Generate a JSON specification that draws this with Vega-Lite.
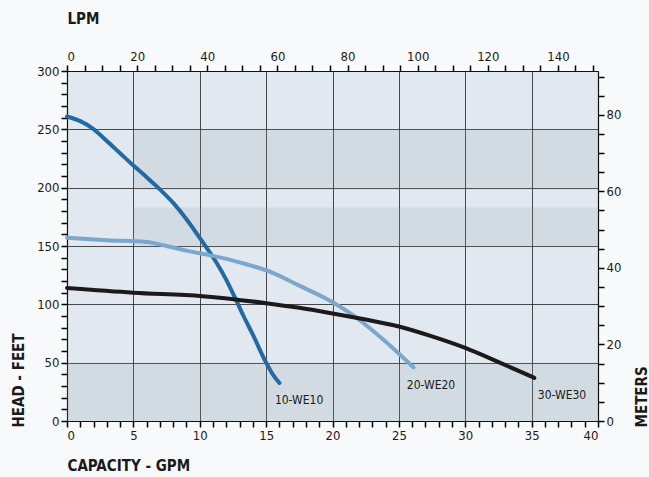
{
  "$schema": "https://vega.github.io/schema/vega-lite/v6.json",
  "width": 531,
  "height": 350,
  "autosize": {"type": "none"},
  "padding": {"left": 67, "top": 71, "right": 51, "bottom": 56},
  "background": "#f8f9fb",
  "view": {"fill": "#e1e8f0", "stroke": null},
  "config": {
    "font": "Liberation Sans Narrow, DejaVu Sans Condensed, Liberation Sans, sans-serif",
    "axis": {
      "labelFont": "Liberation Sans Narrow, DejaVu Sans Condensed, Liberation Sans, sans-serif",
      "labelFontSize": 13,
      "labelColor": "#1a1a1a",
      "labelOverlap": false,
      "titleFont": "Liberation Sans Narrow, DejaVu Sans Condensed, Liberation Sans, sans-serif",
      "titleFontSize": 15,
      "titleFontWeight": "bold",
      "titleColor": "#1a1a1a",
      "domainColor": "#111111",
      "domainWidth": 1.2,
      "ticks": true,
      "tickColor": "#000000",
      "tickOpacity": 1,
      "tickSize": 6,
      "tickWidth": 1.5,
      "labelPadding": 2,
      "gridColor": "#2a2a2a",
      "gridWidth": 1
    }
  },
  "datasets": {
    "curves": [
      {"model": "10-WE10", "gpm": 0, "ft": 261},
      {"model": "10-WE10", "gpm": 1, "ft": 257},
      {"model": "10-WE10", "gpm": 1.9, "ft": 251},
      {"model": "10-WE10", "gpm": 3, "ft": 240},
      {"model": "10-WE10", "gpm": 4, "ft": 229.5},
      {"model": "10-WE10", "gpm": 5, "ft": 219},
      {"model": "10-WE10", "gpm": 6, "ft": 209},
      {"model": "10-WE10", "gpm": 7, "ft": 198.5},
      {"model": "10-WE10", "gpm": 8, "ft": 187},
      {"model": "10-WE10", "gpm": 9, "ft": 173},
      {"model": "10-WE10", "gpm": 10.3, "ft": 152},
      {"model": "10-WE10", "gpm": 11.3, "ft": 135},
      {"model": "10-WE10", "gpm": 12, "ft": 121},
      {"model": "10-WE10", "gpm": 12.6, "ft": 107},
      {"model": "10-WE10", "gpm": 13.3, "ft": 90},
      {"model": "10-WE10", "gpm": 14, "ft": 74},
      {"model": "10-WE10", "gpm": 15, "ft": 50},
      {"model": "10-WE10", "gpm": 15.5, "ft": 40},
      {"model": "10-WE10", "gpm": 16, "ft": 32.5},
      {"model": "20-WE20", "gpm": 0, "ft": 157},
      {"model": "20-WE20", "gpm": 3, "ft": 155},
      {"model": "20-WE20", "gpm": 6, "ft": 153.5},
      {"model": "20-WE20", "gpm": 7.5, "ft": 150},
      {"model": "20-WE20", "gpm": 9, "ft": 146},
      {"model": "20-WE20", "gpm": 10.8, "ft": 142},
      {"model": "20-WE20", "gpm": 13, "ft": 136},
      {"model": "20-WE20", "gpm": 15.5, "ft": 127},
      {"model": "20-WE20", "gpm": 17.5, "ft": 116},
      {"model": "20-WE20", "gpm": 19.5, "ft": 105},
      {"model": "20-WE20", "gpm": 21.3, "ft": 92.6},
      {"model": "20-WE20", "gpm": 23.6, "ft": 72},
      {"model": "20-WE20", "gpm": 26.1, "ft": 46},
      {"model": "30-WE30", "gpm": 0, "ft": 114},
      {"model": "30-WE30", "gpm": 5, "ft": 110},
      {"model": "30-WE30", "gpm": 10.2, "ft": 107},
      {"model": "30-WE30", "gpm": 15, "ft": 101},
      {"model": "30-WE30", "gpm": 17.5, "ft": 97},
      {"model": "30-WE30", "gpm": 19.8, "ft": 92.6},
      {"model": "30-WE30", "gpm": 22.5, "ft": 87},
      {"model": "30-WE30", "gpm": 25, "ft": 81},
      {"model": "30-WE30", "gpm": 27.5, "ft": 72.5},
      {"model": "30-WE30", "gpm": 30, "ft": 62.6},
      {"model": "30-WE30", "gpm": 32.6, "ft": 50},
      {"model": "30-WE30", "gpm": 35.2, "ft": 37}
    ],
    "labels": [
      {"model": "10-WE10", "gpm": 15.66, "ft": 18},
      {"model": "20-WE20", "gpm": 25.6, "ft": 31},
      {"model": "30-WE30", "gpm": 35.47, "ft": 22.3}
    ],
    "bands": [
      {"gpm": 0, "gpm2": 40, "ft": 0, "ft2": 50},
      {"gpm": 5, "gpm2": 40, "ft": 198, "ft2": 250},
      {"gpm": 5, "gpm2": 40, "ft": 149, "ft2": 183}
    ],
    "secondary": [
      {"lpm": 0, "m": 0},
      {"lpm": 151.42, "m": 91.44}
    ]
  },
  "layer": [
    {
      "encoding": {
        "x": {"field": "gpm", "type": "quantitative", "scale": {"domain": [0, 40], "nice": false, "zero": false},
          "axis": {
            "orient": "bottom",
            "title": "CAPACITY - GPM",
            "values": [0,1,2,3,4,5,6,7,8,9,10,11,12,13,14,15,16,17,18,19,20,21,22,23,24,25,26,27,28,29,30,31,32,33,34,35,36,37,38,39,40],
            "labelExpr": "datum.value % 5 === 0 ? datum.label : ''",
            "grid": true,
            "gridOpacity": {"condition": {"test": "datum.value % 5 === 0", "value": 0.85}, "value": 0},
            "titleX": 0,
            "titleY": 44,
            "titleAlign": "left",
            "titleBaseline": "middle",
            "titleAnchor": "start"
          }},
        "y": {"field": "ft", "type": "quantitative", "scale": {"domain": [0, 300], "nice": false, "zero": false},
          "axis": {
            "orient": "left",
            "title": "HEAD - FEET",
            "values": [0,10,20,30,40,50,60,70,80,90,100,110,120,130,140,150,160,170,180,190,200,210,220,230,240,250,260,270,280,290,300],
            "labelExpr": "datum.value % 50 === 0 ? datum.label : ''",
            "grid": true,
            "gridOpacity": {"condition": {"test": "datum.value % 50 === 0", "value": 0.85}, "value": 0},
            "titleAngle": -90,
            "titleX": -49,
            "titleY": 356,
            "titleAlign": "left",
            "titleBaseline": "middle"
          }}
      },
      "layer": [
        {
          "data": {"name": "bands"},
          "mark": {"type": "rect", "fill": "#8f9aa6", "opacity": 0.18},
          "encoding": {
            "x2": {"field": "gpm2"},
            "y2": {"field": "ft2"}
          }
        },
        {
          "data": {"name": "curves"},
          "mark": {"type": "line", "interpolate": "monotone", "strokeWidth": 4, "strokeCap": "round"},
          "encoding": {
            "color": {"field": "model", "type": "nominal", "legend": null,
              "scale": {"domain": ["10-WE10", "20-WE20", "30-WE30"], "range": ["#236aa3", "#7ba7cd", "#1c191b"]}}
          }
        },
        {
          "data": {"name": "labels"},
          "mark": {"type": "text", "align": "left", "baseline": "middle", "fontSize": 12, "color": "#1a1a1a",
            "font": "Liberation Sans Narrow, DejaVu Sans Condensed, Liberation Sans, sans-serif"},
          "encoding": {
            "text": {"field": "model"}
          }
        }
      ]
    },
    {
      "data": {"name": "secondary"},
      "mark": {"type": "point", "opacity": 0},
      "encoding": {
        "x": {"field": "lpm", "type": "quantitative", "scale": {"domain": [0, 151.42], "nice": false, "zero": false},
          "axis": {
            "orient": "top",
            "title": "LPM",
            "values": [0,5,10,15,20,25,30,35,40,45,50,55,60,65,70,75,80,85,90,95,100,105,110,115,120,125,130,135,140,145,150],
            "labelExpr": "datum.value % 20 === 0 ? datum.label : ''",
            "grid": false,
            "titleX": 0,
            "titleY": -53,
            "titleAlign": "left",
            "titleBaseline": "middle",
            "titleAnchor": "start"
          }},
        "y": {"field": "m", "type": "quantitative", "scale": {"domain": [0, 91.44], "nice": false, "zero": false},
          "axis": {
            "orient": "right",
            "title": "METERS",
            "values": [0,5,10,15,20,25,30,35,40,45,50,55,60,65,70,75,80,85,90],
            "labelExpr": "datum.value % 20 === 0 ? datum.label : ''",
            "grid": false,
            "titleAngle": -90,
            "titleX": 43,
            "titleY": 356,
            "titleAlign": "left",
            "titleBaseline": "middle"
          }}
      }
    }
  ],
  "resolve": {"scale": {"x": "independent", "y": "independent"}, "axis": {"x": "independent", "y": "independent"}}
}
